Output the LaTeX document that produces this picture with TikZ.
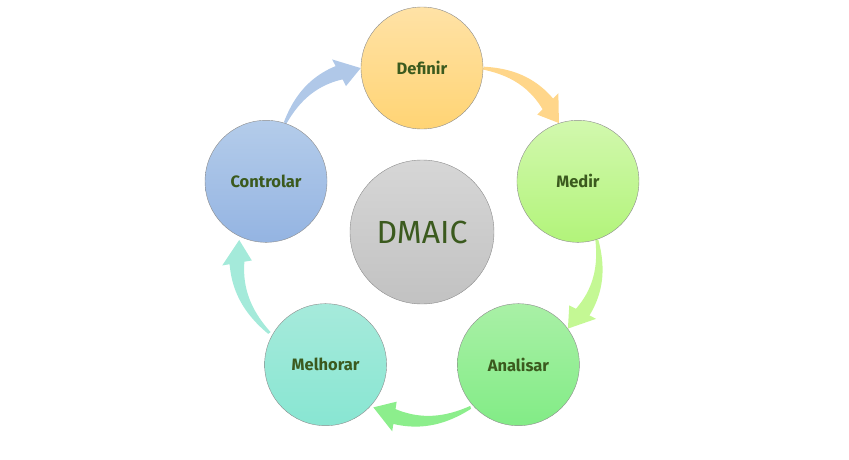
\documentclass[tikz,border=0pt]{standalone}
\usepackage{fontspec}
\setmainfont{Fira Sans}
\usepackage{tikz}
\usepackage{xcolor}

\definecolor{labelgreen}{HTML}{3B5A1E}
\definecolor{rimgray}{HTML}{8C8C8C}
\definecolor{arrdefinir}{HTML}{FFD68A}
\definecolor{arrmedir}{HTML}{C4F894}
\definecolor{arranalisar}{HTML}{8CEE8C}
\definecolor{arrmelhorar}{HTML}{A4EADA}
\definecolor{arrcontrolar}{HTML}{B0C8E8}

\tikzset{
  stage/.style={circle,draw=rimgray,line width=0.4pt,minimum size=122pt,inner sep=0pt,
    text=labelgreen,font=\fontsize{16.5}{19}\selectfont\bfseries},
  hubstage/.style={stage,minimum size=144pt,font=\fontsize{32}{36}\selectfont}
}

% curved block arrow round the hub, from #1 to #2, colour #3, radius #4
\newcommand\cyclearrow[4]{%
  \pgfmathanglebetweenpoints{\pgfpointanchor{hub}{center}}{\pgfpointanchor{#1}{center}}%
  \let\arrsrc\pgfmathresult
  \pgfmathanglebetweenpoints{\pgfpointanchor{hub}{center}}{\pgfpointanchor{#2}{center}}%
  \let\arrtgt\pgfmathresult
  \pgfmathsetmacro\arrtail{\arrsrc-20.5}%
  \pgfmathsetmacro\arrtip{\arrsrc-mod(\arrsrc-\arrtgt+360,360)+20.5}%
  \pgfmathsetmacro\arrbase{\arrtip+7}%
  \pgfmathsetmacro\arrk{(\arrbase-\arrtail)/(\arrtip-\arrtail)}%
  \pgfmathsetmacro\arrmid{#4+7*sin(180*\arrk)}%
  \fill[#3] plot[domain=0:1,samples=30,variable=\t]
      ({\arrtail+(\arrbase-\arrtail)*\t}:{#4+7*sin(180*\arrk*\t)+1.5+6*\t})
    -- ({\arrbase}:{\arrmid+15}) -- ({\arrtip}:{#4}) -- ({\arrbase}:{\arrmid-15})
    -- plot[domain=1:0,samples=30,variable=\t]
      ({\arrtail+(\arrbase-\arrtail)*\t}:{#4+7*sin(180*\arrk*\t)-1.5-6*\t})
    -- cycle;%
}

\begin{document}
\begin{tikzpicture}[x=1pt,y=1pt]
  \useasboundingbox (-422,-227) rectangle (427,232);

  \node[hubstage,top color=black!16,bottom color=black!24] (hub) at (0,0) {DMAIC};

  \coordinate (definir) at (90:164);
  \coordinate (medir) at (18:164);
  \coordinate (analisar) at (-54:164);
  \coordinate (melhorar) at (-126:164);
  \coordinate (controlar) at (162:164);

  \cyclearrow{definir}{medir}{arrdefinir}{175}
  \cyclearrow{medir}{analisar}{arrmedir}{175}
  \cyclearrow{analisar}{melhorar}{arranalisar}{182}
  \cyclearrow{melhorar}{controlar}{arrmelhorar}{183}
  \cyclearrow{controlar}{definir}{arrcontrolar}{175}

  \node[stage,top color={rgb,255:red,255;green,226;blue,166},bottom color={rgb,255:red,255;green,212;blue,116}] (Definir) at (definir) {Definir};
  \node[stage,top color={rgb,255:red,210;green,248;blue,174},bottom color={rgb,255:red,178;green,244;blue,122}] (Medir) at (medir) {Medir};
  \node[stage,top color={rgb,255:red,169;green,240;blue,166},bottom color={rgb,255:red,130;green,236;blue,134}] (Analisar) at (analisar) {Analisar};
  \node[stage,top color={rgb,255:red,166;green,234;blue,219},bottom color={rgb,255:red,136;green,230;blue,210}] (Melhorar) at (melhorar) {Melhorar};
  \node[stage,top color={rgb,255:red,180;green,204;blue,234},bottom color={rgb,255:red,148;green,180;blue,226}] (Controlar) at (controlar) {Controlar};
\end{tikzpicture}
\end{document}
